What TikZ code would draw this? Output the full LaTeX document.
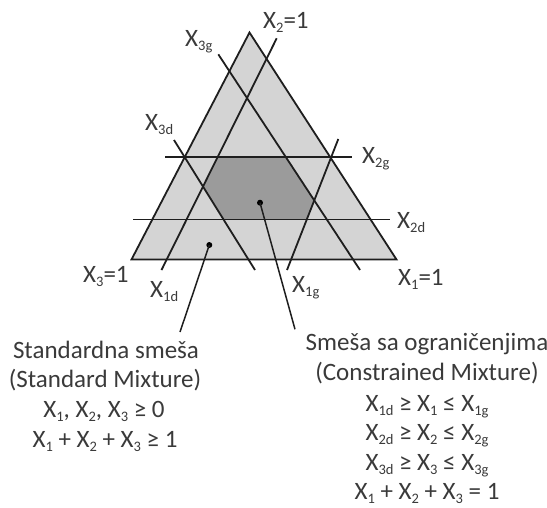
\documentclass[tikz,border=0pt]{standalone}
\usepackage{fontspec}
\setmainfont{Carlito}
\definecolor{lightfill}{HTML}{D4D4D4}
\definecolor{darkfill}{HTML}{9B9B9B}
\definecolor{ink}{HTML}{1E1E1E}
\definecolor{txt}{HTML}{3A3A3A}
\newcommand\sbs[1]{\raisebox{-0.17em}{\fontsize{14.5}{14.5}\selectfont #1}}
\begin{document}
\begin{tikzpicture}[x=1pt,y=-1pt,
  edge/.style={draw=ink, line width=1.8pt},
  conn/.style={draw=ink, line width=1.5pt},
  lbl/.style={anchor=base west, inner sep=0pt, text=txt, font=\fontsize{25}{29}\selectfont},
  captxt/.style={anchor=base, inner sep=0pt, text=txt, font=\fontsize{25}{29}\selectfont},
  dotnode/.style={circle, fill=black, inner sep=0pt, minimum size=6pt}]
\useasboundingbox (0,0) rectangle (547,507);
% triangle
\coordinate (A) at (249.5,32.5);
\coordinate (B) at (131.5,259.5);
\coordinate (C) at (396.5,259.5);
% constraint lines
\coordinate (g2a) at (165,157.3);   \coordinate (g2b) at (351.7,157.3);
\coordinate (d2a) at (133,219.5);   \coordinate (d2b) at (390,219.5);
\coordinate (d1a) at (276.7,38.3);  \coordinate (d1b) at (161.5,270);
\coordinate (g1a) at (338.3,139);   \coordinate (g1b) at (287,270);
\coordinate (d3a) at (174,140);     \coordinate (d3b) at (255,270);
\coordinate (g3a) at (218.3,54.3);  \coordinate (g3b) at (360,270);
% fills
\fill[lightfill] (A) -- (B) -- (C) -- cycle;
\fill[darkfill] (intersection of d1a--d1b and g2a--g2b)
  -- (intersection of g3a--g3b and g2a--g2b)
  -- (intersection of g3a--g3b and g1a--g1b)
  -- (intersection of g1a--g1b and d2a--d2b)
  -- (intersection of d3a--d3b and d2a--d2b)
  -- (intersection of d1a--d1b and d3a--d3b) -- cycle;
% lines
\draw[edge] (g2a) -- (g2b);
\draw[edge] (d2a) -- (d2b);
\draw[edge] (d1a) -- (d1b);
\draw[edge] (g1a) -- (g1b);
\draw[edge] (d3a) -- (d3b);
\draw[edge] (g3a) -- (g3b);
\draw[edge, line join=miter] (A) -- (B) -- (C) -- cycle;
% dots and connectors
\node[dotnode] (dotC) at (260,202.7) {};
\node[dotnode] (dotS) at (209.3,245) {};
\coordinate (endC) at (295,329.3);
\coordinate (endS) at (180,332);
\draw[conn] (dotC.center) -- (endC);
\draw[conn] (dotS.center) -- (endS);
% labels
\node[lbl] (l2one) at (263,28) {X\sbs{2}=1};
\node[lbl] (l3g) at (185,46.7) {X\sbs{3g}};
\node[lbl] (l3d) at (145,130) {X\sbs{3d}};
\node[lbl] (l2g) at (362,163) {X\sbs{2g}};
\node[lbl] (l2d) at (397,228) {X\sbs{2d}};
\node[lbl] (l3one) at (83,282) {X\sbs{3}=1};
\node[lbl] (l1d) at (150,297) {X\sbs{1d}};
\node[lbl] (l1g) at (292,292) {X\sbs{1g}};
\node[lbl] (l1one) at (398,285) {X\sbs{1}=1};
% captions
\node[captxt] (s1) at (106,358.5) {Standardna smeša};
\node[captxt] (s2) at (105,387) {(Standard Mixture)};
\node[captxt] (s3) at (104,417) {X\sbs{1}, X\sbs{2}, X\sbs{3} ≥ 0};
\node[captxt] (s4) at (105,447) {X\sbs{1} + X\sbs{2} + X\sbs{3} ≥ 1};
\node[captxt] (c1) at (427,350) {Smeša sa ograničenjima};
\node[captxt] (c2) at (427,380) {(Constrained Mixture)};
\node[captxt] (c3) at (427,411.7) {X\sbs{1d} ≥ X\sbs{1} ≤ X\sbs{1g}};
\node[captxt] (c4) at (427,440) {X\sbs{2d} ≥ X\sbs{2} ≤ X\sbs{2g}};
\node[captxt] (c5) at (427,470) {X\sbs{3d} ≥ X\sbs{3} ≤ X\sbs{3g}};
\node[captxt] (c6) at (427,499) {X\sbs{1} + X\sbs{2} + X\sbs{3} = 1};
\end{tikzpicture}
\end{document}
